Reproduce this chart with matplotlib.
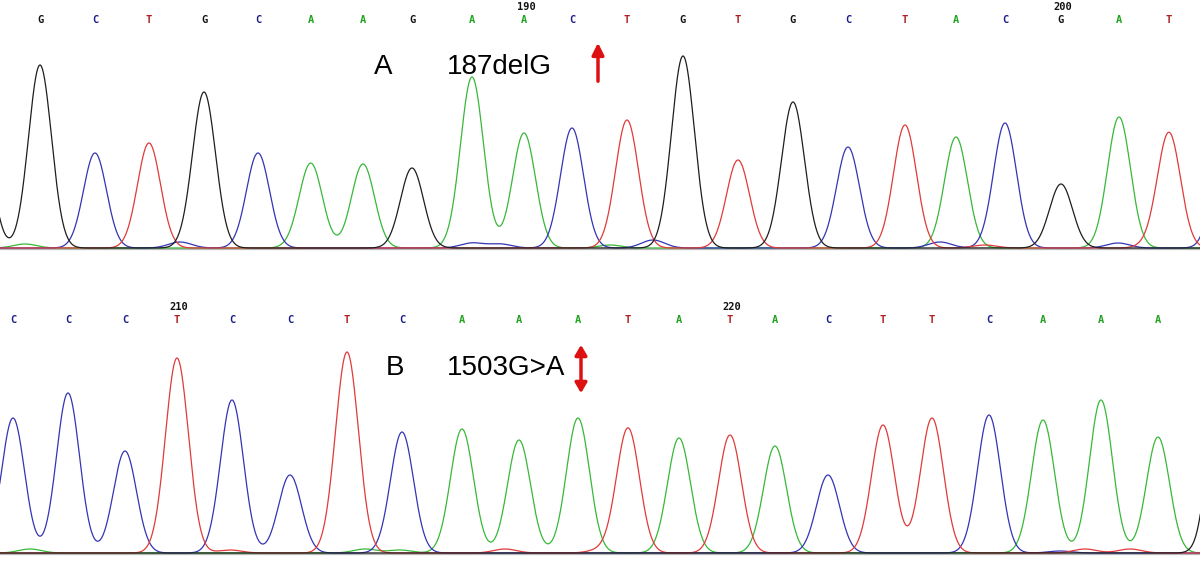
import numpy as np
import matplotlib.pyplot as plt

# --- panel A (187delG) ---
bases_a = list("GCTGCAAGAACTGTGCTACGAT")
pos_a = [40, 95, 149, 204, 258, 311, 363, 412, 472, 524, 572, 627, 683, 738, 793, 848, 905, 956, 1005, 1061, 1119, 1169]
heights_a = [183, 95, 105, 156, 95, 83, 84, 80, 171, 115, 120, 128, 192, 88, 146, 101, 123, 111, 125, 64, 131, 115]
edge_a = [("G", -20, 130), ("C", 1226, 140)]
minor_a = [("A", 25, 4), ("C", 180, 6), ("A", 300, 3), ("C", 472, 5), ("C", 500, 4),
           ("C", 653, 8), ("A", 610, 3), ("C", 940, 6), ("T", 985, 3), ("C", 1118, 5), ("T", 1150, 3)]
num_a = {9: "190", 19: "200"}

# --- panel B (1503G>A) ---
bases_b = list("CCCTCCTCAAATATACTTCAAA")
pos_b = [13, 68, 125, 177, 232, 290, 347, 402, 462, 519, 578, 628, 679, 730, 775, 828, 883, 932, 989, 1043, 1101, 1158]
heights_b = [135, 160, 102, 195, 153, 78, 201, 121, 124, 113, 135, 125, 115, 118, 107, 78, 128, 135, 138, 133, 153, 116]
edge_b = [("G", 1222, 230)]
minor_b = [("A", 30, 4), ("T", 230, 3), ("A", 400, 3), ("T", 505, 4), ("T", 600, 3),
           ("A", 365, 4), ("T", 1085, 4), ("T", 1130, 4), ("C", 1060, 2)]
num_b = {3: "210", 13: "220"}

trace_col = {"G": "#1e1e1e", "C": "#3434b4", "T": "#e03a3a", "A": "#38b838"}
label_col = {"G": "#111111", "C": "#1c1c8c", "T": "#b01e1e", "A": "#22a322"}
SIG = 11.5

fig = plt.figure(figsize=(12, 5.61), dpi=100)
ax = fig.add_axes([0, 0, 1, 1])
ax.set_xlim(0, 1200)
ax.set_ylim(561, 0)
ax.axis("off")

x = np.linspace(-60, 1260, 4000)


def panel(bases, pos, heights, edge, minor, nums, base_y, label_y):
    ax.plot([0, 1200], [base_y + 1, base_y + 1], color="#b8b8b8", lw=1.6, zorder=1)
    peaks = list(zip(bases, pos, heights)) + edge + minor
    for ch in ["A", "C", "T", "G"]:
        y = np.zeros_like(x)
        for b, p, h in peaks:
            if b == ch:
                y += h * np.exp(-(x - p) ** 2 / (2 * SIG ** 2))
        ax.plot(x, base_y - y, color=trace_col[ch], lw=0.9, zorder=2)
    for i, (b, p) in enumerate(zip(bases, pos)):
        ax.text(p, label_y, b, color=label_col[b], fontsize=7.5, fontweight="bold",
                family="DejaVu Sans Mono", ha="center", va="center")
        if i in nums:
            ax.text(p + 2, label_y - 13, nums[i], color="#111111", fontsize=7.5,
                    fontweight="bold", family="DejaVu Sans Mono", ha="center", va="center")


panel(bases_a, pos_a, heights_a, edge_a, minor_a, num_a, 248, 20)
panel(bases_b, pos_b, heights_b, edge_b, minor_b, num_b, 553, 320)

txt = dict(fontsize=20, family="Liberation Sans", color="black", ha="center", va="center")
ax.text(383, 67, "A", **txt)
ax.text(499, 67, "187delG", **txt)
ax.text(395, 368, "B", **txt)
ax.text(506, 368, "1503G>A", **txt)

ax.annotate("", xy=(598, 40), xytext=(598, 84),
            arrowprops=dict(arrowstyle="-|>,head_width=0.35,head_length=0.7", color="#dd1111", lw=2.5))
ax.annotate("", xy=(581, 342), xytext=(581, 396),
            arrowprops=dict(arrowstyle="<|-|>,head_width=0.35,head_length=0.6", color="#dd1111", lw=2.5))

fig.savefig("out.png", dpi=100)
